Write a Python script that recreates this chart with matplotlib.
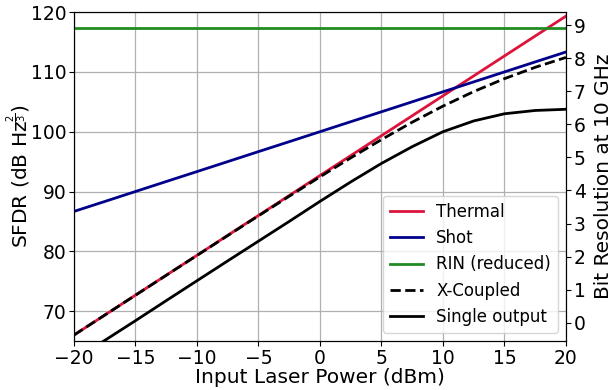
import numpy as np
import matplotlib.pyplot as plt

# input laser power (dBm)
power = [-20, -17.5, -15, -12.5, -10, -7.5, -5, -2.5, 0, 2.5, 5, 7.5, 10, 12.5, 15, 17.5, 20]

# SFDR values (dB Hz^2/3)
thermal = [66.0, 69.33, 72.67, 76.0, 79.33, 82.67, 86.0, 89.33, 92.67, 96.0, 99.33, 102.67, 106.0, 109.33, 112.67, 116.0, 119.33]
shot = [86.67, 88.33, 90.0, 91.67, 93.33, 95.0, 96.67, 98.33, 100.0, 101.67, 103.33, 105.0, 106.67, 108.33, 110.0, 111.67, 113.33]
rin = [117.4] * len(power)
x_coupled = [66.0, 69.33, 72.66, 75.99, 79.31, 82.63, 85.93, 89.21, 92.45, 95.62, 98.68, 101.59, 104.28, 106.71, 108.87, 110.77, 112.42]
single = [61.8, 65.1, 68.4, 71.75, 75.08, 78.4, 81.7, 85.0, 88.35, 91.6, 94.7, 97.5, 100.0, 101.8, 103.0, 103.55, 103.75]

fig, ax = plt.subplots(figsize=(6.15, 3.9), dpi=100)
fig.subplots_adjust(left=0.1203, right=0.9203, top=0.969, bottom=0.1256)

ax.plot(power, thermal, color="crimson", lw=2, label="Thermal")
ax.plot(power, shot, color="darkblue", lw=2, label="Shot")
ax.plot(power, rin, color="forestgreen", lw=2, label="RIN (reduced)")
ax.plot(power, x_coupled, color="black", lw=2, ls="--", label="X-Coupled")
ax.plot(power, single, color="black", lw=2, label="Single output")

ax.set_xlim(-20, 20)
ax.set_ylim(65, 120)
ax.set_xticks(np.arange(-20, 21, 5))
ax.set_yticks(np.arange(70, 121, 10))
ax.grid(True, color="#b0b0b0", lw=0.9)
ax.tick_params(labelsize=13.5, pad=2)
ax.set_xlabel("Input Laser Power (dBm)", fontsize=14.5, labelpad=0)
ax.set_ylabel(r"SFDR (dB Hz$^{\frac{2}{3}}$)", fontsize=14.5)
ax.yaxis.set_label_coords(-0.083, 0.5)

ax2 = ax.twinx()
ax2.set_ylim(-0.553, 9.393)
ax2.set_yticks(np.arange(0, 10, 1))
ax2.tick_params(labelsize=13.5, pad=2)
ax2.set_ylabel("Bit Resolution at 10 GHz", fontsize=14.5)
ax2.yaxis.set_label_coords(1.057, 0.5)

ax.legend(loc="lower right", fontsize=12, framealpha=0.8)

plt.savefig("out.png", dpi=100)
